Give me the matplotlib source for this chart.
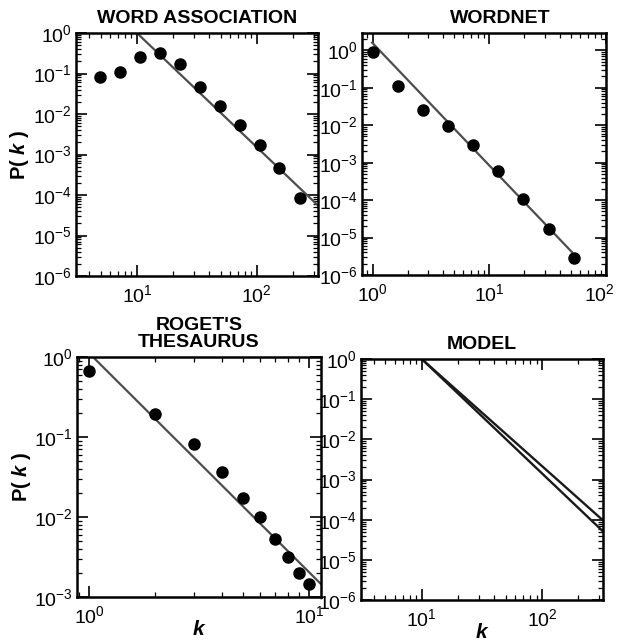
import numpy as np
import matplotlib
matplotlib.use('Agg')
import matplotlib.pyplot as plt
import matplotlib.transforms as mtransforms
from matplotlib.ticker import LogLocator, FuncFormatter, NullFormatter

plt.rcParams['font.family'] = ['Liberation Sans', 'DejaVu Sans']
plt.rcParams['mathtext.fontset'] = 'custom'
plt.rcParams['mathtext.rm'] = 'Liberation Sans'
plt.rcParams['mathtext.it'] = 'Liberation Sans:italic:bold'
plt.rcParams['mathtext.bf'] = 'Liberation Sans:bold'

# --- datos ---
# Word association
wa_k = [4.9, 7.2, 10.6, 15.5, 22.8, 33.5, 49, 72, 106, 155, 228]
wa_p = [0.082, 0.112, 0.255, 0.33, 0.174, 0.046, 0.0162, 0.0053, 0.0017,
        4.7e-4, 8.6e-5]
wa_fit_k = [10, 325]
wa_fit_p = [1.0, 5.5e-5]

# WordNet
wn_k = [1.0, 1.64, 2.7, 4.43, 7.28, 11.9, 19.6, 32.3, 53]
wn_p = [0.92, 0.112, 0.0248, 0.0098, 0.0030, 6.0e-4, 1.1e-4, 1.73e-5, 2.9e-6]
wn_fit_k = [0.99, 51]
wn_fit_p = [1.6, 4.1e-6]

# Roget's thesaurus
rt_k = [1, 2, 3, 4, 5, 6, 7, 8, 9, 10]
rt_p = [0.668, 0.196, 0.0826, 0.0362, 0.0174, 0.0099, 0.0053, 0.00316,
        0.00198, 0.00144]
rt_fit_k = [1.04, 11.3]
rt_fit_p = [1.0, 1.45e-3]

# Modelo
mo_k = [10, 321]
mo_p1 = [1.0, 9.6e-5]
mo_p2 = [1.0, 5.1e-5]

W, H = 618, 644
fig = plt.figure(figsize=(W / 100, H / 100), dpi=100)


def ax_px(left, top, right, bottom):
    return fig.add_axes([left / W, 1 - bottom / H, (right - left) / W,
                         (bottom - top) / H])


def fmt_pow(v, _):
    e = int(round(np.log10(v)))
    return r'$\mathdefault{10^{%d}}$' % e


def estilo(ax, xlim, ylim):
    ax.set_xscale('log')
    ax.set_yscale('log')
    ax.set_xlim(*xlim)
    ax.set_ylim(*ylim)
    for s in ax.spines.values():
        s.set_linewidth(1.8)
    ax.xaxis.set_major_locator(LogLocator(base=10))
    ax.yaxis.set_major_locator(LogLocator(base=10))
    ax.xaxis.set_minor_locator(LogLocator(base=10, subs=np.arange(2, 10)))
    ax.yaxis.set_minor_locator(LogLocator(base=10, subs=np.arange(2, 10)))
    ax.xaxis.set_major_formatter(FuncFormatter(fmt_pow))
    ax.yaxis.set_major_formatter(FuncFormatter(fmt_pow))
    ax.xaxis.set_minor_formatter(NullFormatter())
    ax.yaxis.set_minor_formatter(NullFormatter())
    ax.tick_params(which='both', direction='in', top=True, right=True,
                   labelsize=14, pad=3)
    ax.tick_params(axis='x', pad=6)
    ax.tick_params(which='major', length=8, width=1.2)
    ax.tick_params(which='minor', length=3.5, width=0.9)


def ylab(ax):
    ax.set_ylabel(r'P( $\mathit{k}$ )', fontsize=14.5,
                  fontweight='bold', labelpad=1)


def xlab(ax):
    ax.set_xlabel(r'$\mathit{k}$', fontsize=15, labelpad=-5)


titulo = dict(fontsize=14, fontweight='bold', pad=7)
fit_color = '#4d4d4d'

# --- Word association ---
ax1 = ax_px(76, 33, 318, 276)
ax1.plot(wa_fit_k, wa_fit_p, color=fit_color, lw=1.6, zorder=2)
ax1.plot(wa_k, wa_p, 'o', color='black', ms=8, zorder=3, clip_on=False)
estilo(ax1, (3.1, 325), (1e-6, 1))
ax1.set_title('WORD ASSOCIATION', **titulo)
ylab(ax1)

# --- WordNet ---
ax2 = ax_px(362, 33, 606, 275)
ax2.plot(wn_fit_k, wn_fit_p, color=fit_color, lw=1.6, zorder=2)
ax2.plot(wn_k, wn_p, 'o', color='black', ms=8, zorder=3, clip_on=False)
estilo(ax2, (0.81, 100), (1e-6, 2.9))
ax2.set_title('WORDNET', x=0.565, **titulo)

# --- Roget's thesaurus ---
ax3 = ax_px(77, 357, 321, 597)
ax3.plot(rt_fit_k, rt_fit_p, color=fit_color, lw=1.6, zorder=2)
ax3.plot(rt_k, rt_p, 'o', color='black', ms=8, zorder=3, clip_on=False)
estilo(ax3, (0.88, 11.3), (1e-3, 1))
ax3.set_title("ROGET'S\nTHESAURUS", linespacing=1.0, **titulo)
ylab(ax3)
xlab(ax3)

# --- Modelo ---
ax4 = ax_px(361, 359, 603, 600)
ax4.plot(mo_k, mo_p1, color='#1a1a1a', lw=1.7)
ax4.plot(mo_k, mo_p2, color='#1a1a1a', lw=1.7)
estilo(ax4, (3.13, 321), (1e-6, 1))
ax4.set_title('MODEL', **titulo)
xlab(ax4)

# el 10^2 de WordNet queda pegado al borde: lo corro un poco a la izquierda
fig.canvas.draw()
for t in ax2.xaxis.get_major_ticks():
    if np.isclose(t.get_loc(), 100):
        t.label1.set_transform(t.label1.get_transform() +
                               mtransforms.ScaledTranslation(-5 / 72, 0,
                                                             fig.dpi_scale_trans))

fig.savefig('out.png', dpi=100)
